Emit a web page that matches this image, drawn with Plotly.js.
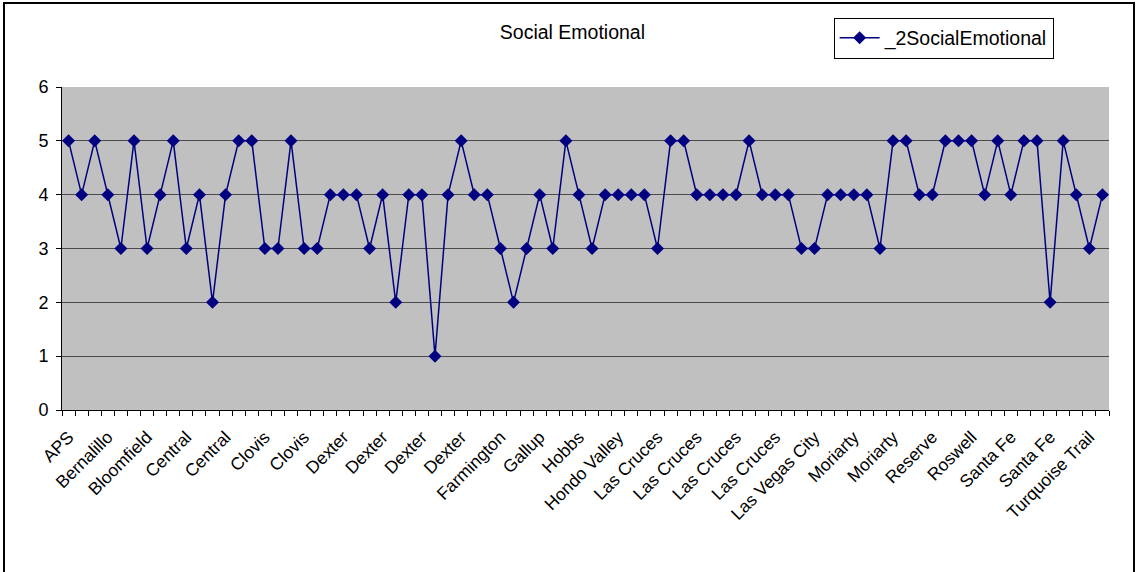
<!DOCTYPE html>
<html>
<head>
<meta charset="utf-8">
<script src="https://cdn.plot.ly/plotly-3.0.1.min.js"></script>
<style>
  html, body { margin: 0; padding: 0; background: #fff; }
  #chart { position: absolute; left: 0; top: 0; width: 1138px; height: 572px; }
  #frame { position: absolute; left: 3px; top: 2px; width: 1132px; height: 600px;
           border: 2px solid #000; pointer-events: none; box-sizing: border-box; }
</style>
</head>
<body>
<div id="chart"></div>
<div id="frame"></div>
<script>
// Values of _2SocialEmotional, one per record (80 records)
const values = [
  5,4,5,4,3,5,3,4,5,3,
  4,2,4,5,5,3,3,5,3,3,
  4,4,4,3,4,2,4,4,1,4,
  5,4,4,3,2,3,4,3,5,4,
  3,4,4,4,4,3,5,5,4,4,
  4,4,5,4,4,4,3,3,4,4,
  4,4,3,5,5,4,4,5,5,5,
  4,5,4,5,5,2,5,4,3,4
];
// Category labels shown on the axis (every third record)
const labelIndex = [0,3,6,9,12,15,18,21,24,27,30,33,36,39,42,45,48,51,54,57,60,63,66,69,72,75,78];
const labelText = [
  "APS","Bernalillo","Bloomfield","Central","Central","Clovis","Clovis",
  "Dexter","Dexter","Dexter","Dexter","Farmington","Gallup","Hobbs",
  "Hondo Valley","Las Cruces","Las Cruces","Las Cruces","Las Cruces",
  "Las Vegas City","Moriarty","Moriarty","Reserve","Roswell","Santa Fe",
  "Santa Fe","Turquoise Trail"
];
const seriesName = "_2SocialEmotional";
const chartTitle = "Social Emotional";

const xs = values.map((v, i) => i);
const n = values.length;

const trace = {
  x: xs, y: values, type: "scatter", mode: "lines+markers", name: seriesName,
  line: { color: "#000080", width: 1.5 },
  marker: { symbol: "diamond", size: 10, color: "#000080" }
};

const font = { family: "Liberation Sans, Arial, sans-serif", color: "#000" };

const layout = {
  width: 1138, height: 572,
  margin: { l: 62, r: 29, t: 87, b: 162, pad: 0 },
  paper_bgcolor: "#ffffff",
  plot_bgcolor: "#C0C0C0",
  font: Object.assign({ size: 17 }, font),
  title: { text: chartTitle, x: 0.503, xref: "container", y: 0.944, yref: "container",
           xanchor: "center", yanchor: "middle", font: Object.assign({ size: 19.5 }, font) },
  showlegend: true,
  legend: {
    x: 0.737, y: 1.215, xanchor: "left", yanchor: "top",
    bgcolor: "#fff", bordercolor: "#000", borderwidth: 1,
    font: Object.assign({ size: 19.5 }, font), itemwidth: 40
  },
  xaxis: {
    range: [-0.5, n - 0.5], tickmode: "array", tickvals: labelIndex, ticktext: labelText,
    tickangle: -45, ticks: "", showgrid: false, zeroline: false,
    showline: true, linecolor: "#000", linewidth: 1, ticklabelstandoff: 9,
    tickfont: Object.assign({ size: 17.5 }, font),
    minor: { tick0: -0.5, dtick: 1, ticks: "outside", ticklen: 5, tickcolor: "#000", tickwidth: 1, showgrid: false }
  },
  yaxis: {
    range: [0, 6], dtick: 1, tick0: 0, ticks: "outside", ticklen: 5, tickcolor: "#000",
    showgrid: true, gridcolor: "#4a4a4a", gridwidth: 1, zeroline: false,
    showline: true, linecolor: "#000", linewidth: 1, ticklabelstandoff: 4,
    tickfont: Object.assign({ size: 18 }, font)
  }
};

Plotly.newPlot("chart", [trace], layout, { displayModeBar: false, staticPlot: true });
</script>
</body>
</html>
